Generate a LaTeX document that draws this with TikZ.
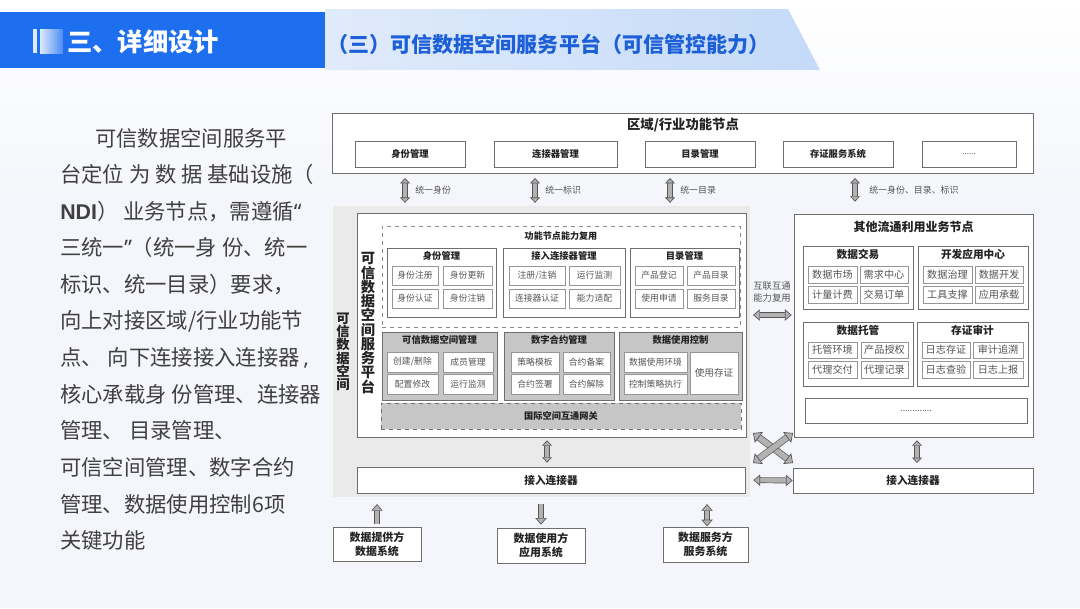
\documentclass[tikz,border=0pt]{standalone}
\usepackage{fontspec}
\setmainfont{Noto Sans CJK SC}
\newfontfamily\latf{Noto Sans}
\newfontfamily\libf{Liberation Sans}
\usetikzlibrary{arrows.meta,calc}
\definecolor{bgc}{RGB}{244,246,251}
\definecolor{hdrblue}{RGB}{30,110,240}
\definecolor{bandl}{RGB}{224,235,251}
\definecolor{bandr}{RGB}{196,218,248}
\definecolor{ttlblue}{RGB}{28,95,215}
\definecolor{paratxt}{RGB}{64,64,64}
\definecolor{txtc}{RGB}{35,35,35}
\definecolor{celltxt}{RGB}{85,85,85}
\definecolor{bordc}{RGB}{110,110,110}
\definecolor{cellbord}{RGB}{150,150,150}
\definecolor{spacegray}{RGB}{234,234,234}
\definecolor{grpgray}{RGB}{198,198,198}
\definecolor{arrfill}{RGB}{178,178,178}
\definecolor{arrdraw}{RGB}{85,85,85}
\newcommand\rbx[7]{\node[#1,minimum width={(#5-#3)*0.75pt},minimum height={(#6-#4)*0.75pt}] (#2) at ({(#3+#5)/2},{(#4+#6)/2}) {#7};}
\tikzset{
  tipS/.tip={Triangle[length=4pt,width=7.5pt,fill=arrfill,color=arrdraw,line width=0.5pt]},
  tipM/.tip={Triangle[length=5pt,width=8.5pt,fill=arrfill,color=arrdraw,line width=0.5pt]},
  tipL/.tip={Triangle[length=5.5pt,width=10pt,fill=arrfill,color=arrdraw,line width=0.5pt]},
  blkS/.style={draw=arrdraw,line width=0.5pt,double=arrfill,double distance=2.8pt},
  blkM/.style={draw=arrdraw,line width=0.5pt,double=arrfill,double distance=3.4pt},
  blkL/.style={draw=arrdraw,line width=0.5pt,double=arrfill,double distance=4.2pt},
  box/.style={draw=bordc,line width=0.6pt,fill=white,inner sep=0pt,text=txtc},
  bbox/.style={box,font=\bfseries\fontsize{7}{8}\selectfont},
  cell/.style={box,draw=cellbord,line width=0.5pt,text=celltxt,font=\fontsize{6.6}{8}\selectfont},
  rcell/.style={box,draw=cellbord,line width=0.5pt,text=celltxt,font=\fontsize{7.6}{9}\selectfont},
  ggrp/.style={box,fill=grpgray,draw=bordc},
  ttl/.style={inner sep=0pt,text=txtc,font=\bfseries\fontsize{7}{8}\selectfont},
  rttl/.style={ttl,font=\bfseries\fontsize{8}{9}\selectfont},
  para/.style={inner sep=0pt,anchor=west,text=paratxt,font=\fontsize{16}{18}\selectfont},
  lbl/.style={inner sep=0pt,anchor=west,text=celltxt,font=\fontsize{6.7}{8}\selectfont},
  sysbox/.style={box,align=center,font=\bfseries\fontsize{8.2}{10.5}\selectfont},
}
\begin{document}
\begin{tikzpicture}[x=0.75pt,y=-0.75pt]
\useasboundingbox (0,0) rectangle (1080,608);
\shade[top color=white,bottom color=bgc] (0,0) rectangle (1080,200);
\fill[bgc] (0,200) rectangle (1080,608);
% header
\shade[left color=bandl,right color=bandr] (325,9) -- (788,9) -- (820,70) -- (325,70) -- cycle;
\fill[hdrblue] (0,12) rectangle (325,68);
\fill[white,opacity=0.85] (33,29) rectangle (37,53);
\shade[left color=white!85!hdrblue,right color=hdrblue!80!white] (40,29) rectangle (63,53);
\node[inner sep=0pt,anchor=west,text=white,font=\bfseries\fontsize{19}{21}\selectfont] (h1) at (67,42) {三、详细设计};
\node[inner sep=0pt,anchor=west,text=ttlblue,font=\bfseries\fontsize{15.8}{18}\selectfont] (h2) at (327,44) {（三）可信数据空间服务平台（可信管控能力）};
% paragraph
\node[para] (p1) at (95,138) {可信数据空间服务平};
\node[para] (p2) at (60,174.6) {台定位 为 数 据 基础设施（};
\node[para] (p3) at (60,211.2) {{\libf\bfseries NDI}） 业务节点，需遵循{\latf “}};
\node[para] (p4) at (60,247.8) {三统一{\latf ”}（统一身 份、统一};
\node[para] (p5) at (60,284.4) {标识、统一目录）要求，};
\node[para] (p6) at (60,321) {向上对接区域/行业功能节};
\node[para] (p7) at (60,357.6) {点、 向下连接接入连接器{\latf\,,}};
\node[para] (p8) at (60,394.2) {核心承载身 份管理、连接器};
\node[para] (p9) at (60,430.8) {管理、 目录管理、};
\node[para] (p10) at (60,467.4) {可信空间管理、数字合约};
\node[para] (p11) at (60,504) {管理、数据使用控制6项};
\node[para] (p12) at (60,540.6) {关键功能};
% region box
\rbx{box}{region}{332}{113}{1033}{173}{}
\node[ttl,font=\bfseries\fontsize{10}{12}\selectfont] (regiont) at (683,125) {区域/行业功能节点};
\rbx{bbox}{rs1}{355}{141}{465}{167}{身份管理}
\rbx{bbox}{rs2}{494}{141}{617}{167}{连接器管理}
\rbx{bbox}{rs3}{645}{141}{755}{167}{目录管理}
\rbx{bbox}{rs4}{783}{141}{893}{167}{存证服务系统}
\rbx{box,text=celltxt,font=\fontsize{6}{8}\selectfont}{rs5}{922}{141}{1016}{167}{......}
% trusted data space
\rbx{fill=spacegray,inner sep=0pt}{space}{333}{206}{750}{497}{}
\node[inner sep=0pt,text=txtc,align=center,font=\bfseries\fontsize{10}{10}\selectfont] (spacet) at (343,352) {可\\信\\数\\据\\空\\间};
\rbx{box}{plat}{357}{213}{746}{437}{}
\node[inner sep=0pt,text=txtc,align=center,font=\bfseries\fontsize{10.7}{10.7}\selectfont] (platt) at (368,323) {可\\信\\数\\据\\空\\间\\服\\务\\平\\台};
\rbx{box,dashed,draw=bordc!80}{reuse}{382}{226}{740}{327}{}
\node[ttl,font=\bfseries\fontsize{6.8}{8}\selectfont] (reuset) at (561,236) {功能节点能力复用};
% upper groups
\rbx{box}{g1}{387}{248}{496}{317}{}
\node[ttl] (g1t) at (441.5,256) {身份管理};
\rbx{cell}{g1a}{392}{266}{438}{285}{身份注册}
\rbx{cell}{g1b}{443}{266}{492}{285}{身份更新}
\rbx{cell}{g1c}{392}{289}{438}{308}{身份认证}
\rbx{cell}{g1d}{443}{289}{492}{308}{身份注销}
\rbx{box}{g2}{503}{248}{625}{317}{}
\node[ttl] (g2t) at (564,256) {接入连接器管理};
\rbx{cell}{g2a}{509}{266}{565}{285}{注册/注销}
\rbx{cell}{g2b}{569}{266}{620}{285}{运行监测}
\rbx{cell}{g2c}{509}{289}{565}{308}{连接器认证}
\rbx{cell}{g2d}{569}{289}{620}{308}{能力适配}
\rbx{box}{g3}{630}{248}{739}{317}{}
\node[ttl] (g3t) at (684.5,256) {目录管理};
\rbx{cell}{g3a}{635}{266}{683}{285}{产品登记}
\rbx{cell}{g3b}{687}{266}{735}{285}{产品目录}
\rbx{cell}{g3c}{635}{289}{683}{308}{使用申请}
\rbx{cell}{g3d}{687}{289}{735}{308}{服务目录}
% lower groups
\rbx{ggrp}{l1}{382}{332}{497}{400}{}
\node[ttl] (l1t) at (439.5,340) {可信数据空间管理};
\rbx{cell}{l1a}{387}{352}{438}{372}{创建/删除}
\rbx{cell}{l1b}{443}{352}{493}{372}{成员管理}
\rbx{cell}{l1c}{387}{374}{438}{394}{配置修改}
\rbx{cell}{l1d}{443}{374}{493}{394}{运行监测}
\rbx{ggrp}{l2}{504}{332}{614}{400}{}
\node[ttl] (l2t) at (559,340) {数字合约管理};
\rbx{cell}{l2a}{511}{352}{559}{372}{策略模板}
\rbx{cell}{l2b}{563}{352}{610}{372}{合约备案}
\rbx{cell}{l2c}{511}{374}{559}{394}{合约签署}
\rbx{cell}{l2d}{563}{374}{610}{394}{合约解除}
\rbx{ggrp}{l3}{619}{332}{742}{400}{}
\node[ttl] (l3t) at (680.5,340) {数据使用控制};
\rbx{cell}{l3a}{624}{352}{687}{372}{数据使用环境}
\rbx{cell}{l3c}{624}{374}{687}{394}{控制策略执行}
\rbx{cell,font=\fontsize{7.2}{8}\selectfont}{l3b}{690}{352}{738}{394}{使用存证}
\rbx{box,fill=grpgray,dashed,font=\bfseries\fontsize{6.9}{8}\selectfont}{gw}{381}{403}{741}{429}{国际空间互通网关}
% left connector
\rbx{box,font=\bfseries\fontsize{8}{9}\selectfont}{conn}{357}{467}{745}{493}{接入连接器}
% right box
\rbx{box}{rbox}{794}{214}{1033}{437}{}
\node[ttl,font=\bfseries\fontsize{9}{10}\selectfont] (rboxt) at (913.5,227) {其他流通利用业务节点};
\rbx{box}{r1}{803}{246}{913}{309}{}
\node[rttl] (r1t) at (858,254) {数据交易};
\rbx{rcell}{r1a}{808}{266}{857}{283}{数据市场}
\rbx{rcell}{r1b}{860}{266}{908}{283}{需求中心}
\rbx{rcell}{r1c}{808}{286}{857}{303}{计量计费}
\rbx{rcell}{r1d}{860}{286}{908}{303}{交易订单}
\rbx{box}{r2}{918}{246}{1028}{309}{}
\node[rttl] (r2t) at (973,254) {开发应用中心};
\rbx{rcell}{r2a}{923}{266}{972}{283}{数据治理}
\rbx{rcell}{r2b}{975}{266}{1023}{283}{数据开发}
\rbx{rcell}{r2c}{923}{286}{972}{303}{工具支撑}
\rbx{rcell}{r2d}{975}{286}{1023}{303}{应用承载}
\rbx{box}{r3}{803}{322}{913}{386}{}
\node[rttl] (r3t) at (858,330) {数据托管};
\rbx{rcell}{r3a}{808}{342}{857}{358}{托管环境}
\rbx{rcell}{r3b}{861}{342}{908}{358}{产品授权}
\rbx{rcell}{r3c}{808}{361}{857}{378}{代理交付}
\rbx{rcell}{r3d}{861}{361}{908}{378}{代理记录}
\rbx{box}{r4}{917}{322}{1028}{386}{}
\node[rttl] (r4t) at (972.5,330) {存证审计};
\rbx{rcell}{r4a}{922}{342}{970}{358}{日志存证}
\rbx{rcell}{r4b}{973}{342}{1023}{358}{审计追溯}
\rbx{rcell}{r4c}{922}{361}{970}{378}{日志查验}
\rbx{rcell}{r4d}{973}{361}{1023}{378}{日志上报}
\rbx{box,text=celltxt,font=\fontsize{6.5}{8}\selectfont}{rdots}{805}{398}{1027}{423}{.............}
\rbx{box,font=\bfseries\fontsize{8}{9}\selectfont}{rconn}{793}{468}{1033}{493}{接入连接器}
% bottom systems
\rbx{sysbox}{b1}{333}{527}{421}{561}{数据提供方\\数据系统}
\rbx{sysbox}{b2}{497}{528}{585}{563}{数据使用方\\应用系统}
\rbx{sysbox}{b3}{663}{527}{748}{562}{数据服务方\\服务系统}
% arrow anchors
\coordinate (xa1) at (405,0);
\coordinate (xa2) at (535,0);
\coordinate (xa3) at (670,0);
\coordinate (xa4) at (855,0);
\coordinate (xb) at (547,0);
\coordinate (xr) at (917,0);
\coordinate (yh) at (0,315);
\coordinate (xb3) at (707,0);
\coordinate (ca) at (753,433);
\coordinate (cb) at (793,463);
\coordinate (cc) at (753,463);
\coordinate (cd) at (793,433);
% arrows
\draw[blkS,arrows={tipS-tipS},shorten <=3.5pt,shorten >=2.2pt] (region.south -| xa1) -- (space.north -| xa1);
\draw[blkS,arrows={tipS-tipS},shorten <=3.5pt,shorten >=2.2pt] (region.south -| xa2) -- (space.north -| xa2);
\draw[blkS,arrows={tipS-tipS},shorten <=3.5pt,shorten >=2.2pt] (region.south -| xa3) -- (space.north -| xa3);
\draw[blkS,arrows={tipS-tipS},shorten <=3.5pt,shorten >=9pt] (region.south -| xa4) -- (rbox.north -| xa4);
\node[lbl] (la1) at (415,190) {统一身份};
\node[lbl] (la2) at (545,190) {统一标识};
\node[lbl] (la3) at (680,190) {统一目录};
\node[lbl] (la4) at (869,190) {统一身份、目录、标识};
\draw[blkS,arrows={tipS-tipS},shorten <=2.2pt,shorten >=3pt] (plat.south -| xb) -- (conn.north -| xb);
\draw[blkS,arrows={tipS-tipS},shorten <=2.2pt,shorten >=3.5pt] (rbox.south -| xr) -- (rconn.north -| xr);
\draw[blkM,arrows={tipM-tipM},shorten <=5pt,shorten >=1.5pt] (plat.east |- yh) -- (rbox.west |- yh);
\node[inner sep=0pt,align=center,text=celltxt,font=\fontsize{7}{8.5}\selectfont] (lh) at (772,292) {互联互通\\能力复用};
\draw[blkL,arrows={tipL-tipL}] (ca) -- (cb);
\draw[blkL,arrows={tipL-tipL}] (cc) -- (cd);
\draw[blkM,arrows={tipM-tipM},shorten <=6pt] (conn.east) -- (rconn.west);
\draw[blkM,arrows={-tipM},shorten <=2.2pt,shorten >=8pt] (b1.north) -- (b1.north |- conn.south);
\draw[blkM,arrows={-tipM},shorten <=8pt,shorten >=2.2pt] (conn.south -| b2.north) -- (b2.north);
\draw[blkM,arrows={tipM-tipM},shorten <=8pt,shorten >=0.2pt] (conn.south -| xb3) -- (b3.north -| xb3);
\end{tikzpicture}
\end{document}
